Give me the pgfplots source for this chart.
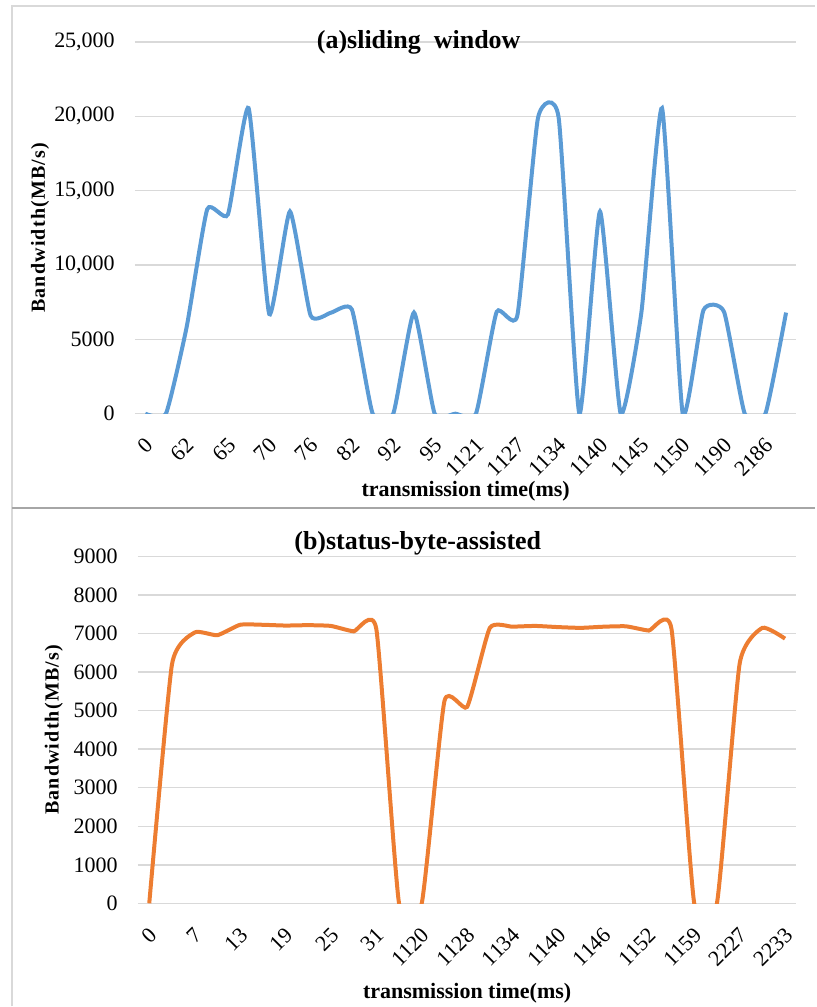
\documentclass[border=0pt]{standalone}
\usepackage{pgfplots}
\pgfplotsset{compat=1.18}
\usepackage{pgfplotstable}
\usepackage{fontspec}
\setmainfont{Liberation Serif}
\definecolor{xblue}{HTML}{5B9BD5}
\definecolor{xorange}{HTML}{ED7D31}
\definecolor{xgrid}{HTML}{D9D9D9}
\definecolor{xsep}{HTML}{A6A6A6}

\pgfplotstableread{
i v
0 0
1 0
2 5800
3 13750
4 13400
5 20550
6 6700
7 13600
8 6600
9 6800
10 7000
11 0
12 0
13 6800
14 0
15 0
16 0
17 6850
18 6600
19 19900
20 19900
21 0
22 13600
23 0
24 6800
25 20550
26 0
27 6950
28 6850
29 0
30 0
31 6800
}\topdata

\pgfplotstableread{
i v
0 0
1 6200
2 7030
3 6960
4 7230
5 7230
6 7210
7 7220
8 7200
9 7060
10 7120
11 0
12 0
13 5250
14 5100
15 7150
16 7180
17 7200
18 7170
19 7150
20 7180
21 7190
22 7080
23 7120
24 0
25 0
26 6220
27 7150
28 6870
}\botdata

\pgfplotsset{excel/.style={
  scale only axis, clip=true,
  axis line style={draw=none},
  major tick length=0pt,
  ymajorgrids, grid style={xgrid, line width=1.5pt},
  /pgf/number format/assume math mode=true,
  scaled ticks=false,
  ticklabel style={font=\fontsize{22}{26}\selectfont},
  yticklabel style={inner sep=0pt, anchor=east, xshift=-20pt},
  xticklabel style={inner sep=0pt, xshift=4pt, yshift=-28pt, rotate=45, anchor=east},
  xlabel style={font=\bfseries\fontsize{22}{26}\selectfont, anchor=center},
  ylabel style={font=\bfseries\fontsize{20}{24}\selectfont\addfontfeatures{LetterSpace=6}, anchor=center},
  title style={font=\bfseries\fontsize{26}{30}\selectfont, anchor=center},
}}

\begin{document}
\begin{tikzpicture}
\path (0pt,0pt) rectangle (816pt,1007pt);
\draw[xgrid, line width=1.5pt] (12pt,0pt) -- (12pt,1001pt) -- (816pt,1001pt);
\draw[xsep, line width=2pt] (12pt,499pt) -- (816pt,499pt);

\begin{axis}[excel, at={(135pt,593pt)}, anchor=south west,
  width=662pt, height=372pt,
  xmin=-0.5, xmax=31.5, ymin=0, ymax=25000,
  ytick={0,5000,10000,15000,20000,25000},
  yticklabels={0,5000,{10,000},{15,000},{20,000},{25,000}},
  xtick={0,2,...,30},
  xticklabels={0,62,65,70,76,82,92,95,1121,1127,1134,1140,1145,1150,1190,2186},
  title={(a)sliding\ \ window},
  title style={at={(axis description cs:0.429,1)}, yshift=-6pt},
  xlabel={transmission time(ms)},
  xlabel style={at={(axis description cs:0.5,0)}, yshift=-78pt},
  ylabel={Bandwidth(MB/s)},
  ylabel style={at={(axis description cs:-0.1435,0.5)}},
]
\addplot[xblue, line width=4pt, smooth, tension=0.3] table[x=i, y=v] {\topdata};
\end{axis}

\begin{axis}[excel, at={(138pt,103pt)}, anchor=south west,
  width=659pt, height=347pt,
  xmin=-0.5, xmax=28.5, ymin=0, ymax=9000,
  ytick={0,1000,...,9000},
  yticklabels={0,1000,2000,3000,4000,5000,6000,7000,8000,9000},
  xtick={0,2,...,28},
  xticklabels={0,7,13,19,25,31,1120,1128,1134,1140,1146,1152,1159,2227,2233},
  title={(b)status-byte-assisted},
  title style={at={(axis description cs:0.425,1)}, yshift=7pt},
  xlabel={transmission time(ms)},
  xlabel style={at={(axis description cs:0.5,0)}, yshift=-90pt},
  ylabel={Bandwidth(MB/s)},
  ylabel style={at={(axis description cs:-0.1275,0.5)}},
]
\addplot[xorange, line width=4pt, smooth, tension=0.3] table[x=i, y=v] {\botdata};
\end{axis}
\end{tikzpicture}
\end{document}
